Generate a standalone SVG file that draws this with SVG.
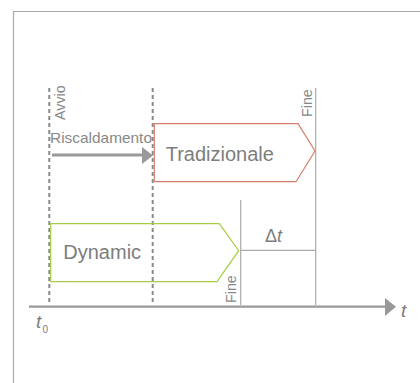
<svg xmlns="http://www.w3.org/2000/svg" width="420" height="383" viewBox="0 0 420 383">
<style>
text{font-family:"Liberation Sans",Arial,sans-serif;fill:#7d7d7d}
.dash{stroke:#8a8a8a;stroke-width:2;stroke-dasharray:4,3;fill:none}
.thin{stroke:#aaaaaa;stroke-width:1.2;fill:none}
.axis{stroke:#999999;stroke-width:2.2;fill:none}
.small{font-size:14.3px;fill:#888888}
.big{font-size:20px}
</style>
<path id="frame" d="M13.5,383 V11.5 H420" fill="none" stroke="#aaaaaa" stroke-width="1.2"/>
<g id="connectors">
<line class="dash" x1="49.3" y1="88" x2="49.3" y2="305"/>
<line class="dash" x1="152.7" y1="88" x2="152.7" y2="305"/>
<line class="axis" x1="29" y1="306.7" x2="387" y2="306.7"/>
<path d="M385,298 L396,306.7 L385,316 Z" fill="#999999"/>
<line x1="52" y1="155" x2="143" y2="155" stroke="#999999" stroke-width="3"/>
<path d="M142,147 L153,155.5 L142,164 Z" fill="#999999"/>
<line class="thin" x1="315.7" y1="88" x2="315.7" y2="305"/>
<line class="thin" x1="240.7" y1="200" x2="240.7" y2="305"/>
<line class="thin" x1="240.7" y1="250.3" x2="315.7" y2="250.3"/>
</g>
<g id="tradizionale">
<path d="M154.3,123.7 L298,123.7 L315,151 L296,181.7 L154.3,181.7 Z" fill="none" stroke="#d4806a" stroke-width="1.2"/>
<text class="big" x="165.7" y="161">Tradizionale</text>
</g>
<g id="dynamic">
<path d="M50.7,223.7 L219.3,223.7 L238.7,250.7 L217,281.7 L50.7,281.7 Z" fill="none" stroke="#a8cc44" stroke-width="1.2"/>
<text class="big" x="63.3" y="259">Dynamic</text>
</g>
<g id="labels">
<text class="small" transform="translate(65,120) rotate(-90)">Avvio</text>
<text class="small" x="50" y="143" textLength="102" lengthAdjust="spacingAndGlyphs">Riscaldamento</text>
<text class="small" transform="translate(311.7,117) rotate(-90)">Fine</text>
<text class="small" transform="translate(236,303) rotate(-90)">Fine</text>
<text x="265" y="241.7" font-size="18">Δ<tspan font-style="italic">t</tspan></text>
<text x="401" y="317" font-size="19" font-style="italic">t</text>
<text x="36" y="328" font-size="19" font-style="italic">t</text>
<text x="42.5" y="333" font-size="10">0</text>
</g>
</svg>
